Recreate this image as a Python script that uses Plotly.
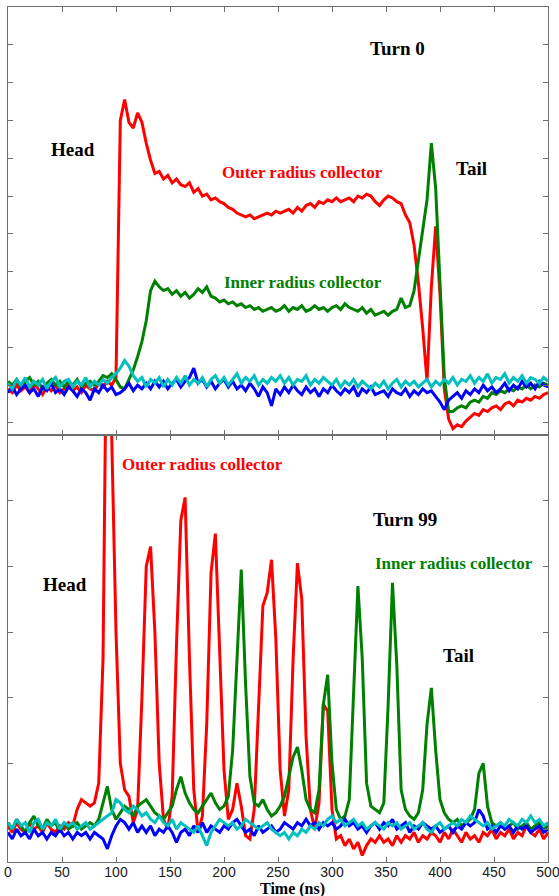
import plotly.graph_objects as go

# Sample times (ns), 4 ns spacing
TIME_NS = list(range(0, 501, 4))

# ---- Turn 0 (upper panel) -------------------------------------------------
turn0_outer = [
    -0.10, -0.20, 0.00, -0.15, -0.05, -0.20, 0.05, -0.10, -0.25, -0.05,
    -0.15, 0.00, -0.20, -0.10, 0.05, -0.15, -0.05, -0.20, 0.00, -0.10,
    -0.15, 0.05, -0.05, 0.10, 0.00, 0.20, 7.00, 7.55, 6.95, 6.80,
    7.20, 6.95, 6.40, 5.95, 5.60, 5.65, 5.45, 5.55, 5.35, 5.45,
    5.30, 5.25, 5.35, 5.10, 5.20, 5.00, 5.05, 4.90, 4.95, 4.85,
    4.80, 4.70, 4.65, 4.55, 4.50, 4.45, 4.50, 4.40, 4.45, 4.50,
    4.55, 4.50, 4.60, 4.55, 4.60, 4.65, 4.55, 4.70, 4.60, 4.75,
    4.80, 4.70, 4.85, 4.80, 4.90, 4.85, 4.95, 4.85, 4.90, 4.95,
    4.85, 5.00, 4.95, 5.05, 5.00, 4.85, 4.75, 4.90, 5.00, 4.95,
    4.85, 4.80, 4.50, 4.30, 3.70, 2.70, 1.50, 0.10, 2.60, 4.20,
    2.40, -0.10, -0.90, -1.15, -1.05, -1.10, -0.95, -0.85, -0.75, -0.80,
    -0.65, -0.70, -0.60, -0.55, -0.65, -0.50, -0.45, -0.55, -0.40, -0.45,
    -0.35, -0.40, -0.30, -0.35, -0.25, -0.20,
]
turn0_inner = [
    0.10, 0.00, 0.15, -0.05, 0.10, 0.20, 0.00, 0.10, -0.10, 0.05,
    0.15, 0.00, 0.10, -0.05, 0.10, 0.00, 0.15, -0.05, 0.05, 0.10,
    0.00, 0.10, 0.25, 0.20, 0.30, 0.15, -0.05, -0.10, 0.15, 0.40,
    0.75, 1.15, 1.70, 2.50, 2.75, 2.60, 2.50, 2.55, 2.40, 2.50,
    2.35, 2.45, 2.30, 2.40, 2.55, 2.45, 2.60, 2.35, 2.30, 2.20,
    2.25, 2.15, 2.20, 2.10, 2.15, 2.05, 2.10, 2.00, 2.05, 1.95,
    2.00, 2.05, 1.95, 2.00, 2.10, 1.95, 2.05, 2.00, 2.10, 1.95,
    2.00, 2.10, 2.00, 2.05, 1.95, 2.05, 2.10, 2.00, 2.15, 2.05,
    2.00, 1.95, 2.05, 1.90, 2.00, 1.85, 1.90, 1.95, 1.85, 1.95,
    2.00, 2.30, 2.05, 2.10, 2.50, 3.30, 4.10, 4.90, 6.40, 5.20,
    2.70, 0.20, -0.70, -0.70, -0.60, -0.55, -0.60, -0.45, -0.40, -0.45,
    -0.30, -0.35, -0.20, -0.25, -0.15, -0.20, -0.10, -0.15, -0.05, -0.10,
    0.00, -0.10, 0.00, -0.05, 0.05, 0.00,
]
turn0_blue = [
    -0.20, -0.05, -0.25, -0.10, 0.00, -0.20, -0.10, -0.30, -0.05, -0.15,
    0.05, -0.20, -0.10, -0.25, -0.05, -0.15, -0.30, -0.10, -0.20, -0.40,
    -0.10, -0.20, 0.00, -0.15, -0.05, -0.25, -0.20, -0.10, 0.05, -0.15,
    0.00, -0.10, 0.05, -0.10, 0.10, -0.05, 0.10, -0.10, 0.05, 0.15,
    -0.05, 0.10, 0.20, 0.45, 0.05, 0.15, -0.05, 0.10, -0.10, 0.05,
    0.15, -0.05, 0.10, -0.10, 0.00, -0.15, 0.05, -0.10, -0.30, -0.05,
    -0.20, -0.55, -0.10, -0.25, -0.05, -0.20, 0.00, -0.15, -0.25, -0.05,
    -0.20, -0.10, -0.30, -0.10, -0.20, 0.00, -0.15, -0.25, -0.10, -0.20,
    -0.05, -0.30, -0.10, -0.20, -0.05, -0.25, -0.20, -0.15, -0.30, -0.10,
    -0.20, -0.25, -0.10, -0.30, -0.15, -0.25, -0.10, -0.20, -0.15, -0.30,
    -0.45, -0.65, -0.40, -0.30, -0.20, -0.35, -0.15, -0.25, -0.10, -0.20,
    0.00, -0.15, -0.05, -0.20, -0.10, 0.05, -0.15, 0.00, -0.10, 0.10,
    -0.05, 0.05, -0.10, 0.10, 0.00, -0.05,
]
turn0_cyan = [
    0.05, -0.10, 0.15, 0.00, 0.20, -0.05, 0.10, 0.00, 0.15, -0.10,
    0.10, 0.20, -0.05, 0.10, 0.15, -0.05, 0.10, 0.00, 0.20, -0.05,
    0.10, 0.00, 0.15, 0.05, 0.20, 0.30, 0.45, 0.65, 0.50, 0.25,
    0.10, 0.20, -0.05, 0.15, 0.05, 0.20, -0.05, 0.15, 0.00, 0.20,
    0.05, 0.25, 0.00, 0.15, 0.05, 0.20, -0.05, 0.15, 0.25, 0.05,
    0.20, 0.00, 0.15, 0.30, 0.05, 0.20, 0.10, 0.25, 0.00, 0.15,
    0.05, 0.20, 0.10, 0.25, 0.05, 0.20, 0.00, 0.15, 0.10, 0.25,
    0.00, 0.15, 0.05, 0.20, 0.10, 0.00, 0.15, -0.05, 0.10, 0.00,
    0.15, -0.05, 0.10, 0.00, -0.10, 0.05, -0.05, 0.10, -0.10, 0.05,
    0.15, -0.05, 0.10, 0.00, 0.10, -0.05, 0.05, 0.15, -0.05, 0.10,
    0.00, 0.15, 0.05, 0.20, 0.00, 0.15, 0.10, 0.25, 0.05, 0.20,
    0.10, 0.30, 0.05, 0.20, 0.15, 0.30, 0.05, 0.20, 0.10, 0.25,
    0.05, 0.20, 0.15, 0.05, 0.20, 0.10,
]

# ---- Turn 99 (lower panel) ------------------------------------------------
turn99_outer = [
    0.05, -0.05, 0.10, 0.00, -0.05, 0.10, 0.00, 0.05, -0.05, 0.10,
    0.00, -0.05, 0.05, 0.00, 0.10, 0.05, 0.30, 0.45, 0.40, 0.35,
    0.40, 0.70, 2.60, 9.00, 6.00, 3.00, 1.00, 0.60, 0.50, 0.10,
    0.30, 2.00, 4.00, 4.30, 3.00, 1.00, 0.15, 0.00, 0.50, 2.80,
    4.70, 5.05, 2.60, 0.60, -0.05, 0.20, 1.60, 3.90, 4.50, 2.80,
    0.90, 0.15, 0.30, 0.70, 0.35, -0.10, -0.15, 0.30, 1.90, 3.40,
    3.60, 4.10, 2.90, 0.90, 0.20, 0.60, 2.60, 4.05, 3.50, 1.40,
    0.30, 0.00, 0.40, 1.90, 1.80, 0.30, -0.15, -0.10, -0.25, -0.15,
    -0.30, -0.20, -0.40, -0.25, -0.15, -0.20, -0.10, -0.20, -0.15, -0.25,
    -0.10, -0.20, -0.10, -0.15, -0.05, -0.20, -0.10, -0.15, -0.05, -0.10,
    -0.20, -0.05, -0.15, 0.00, -0.10, -0.20, -0.05, -0.15, -0.10, -0.20,
    -0.05, -0.10, 0.00, -0.15, -0.05, -0.10, 0.00, -0.15, -0.05, -0.10,
    0.05, -0.05, -0.10, 0.00, -0.15, -0.05,
]
turn99_inner = [
    0.10, 0.00, 0.15, 0.05, -0.05, 0.10, 0.20, 0.05, 0.00, 0.15,
    0.05, 0.10, -0.05, 0.10, 0.00, 0.05, 0.10, 0.00, 0.05, 0.10,
    0.05, 0.15, 0.40, 0.65, 0.30, 0.15, 0.25, 0.35, 0.30, 0.20,
    0.35, 0.40, 0.45, 0.35, 0.25, 0.20, 0.15, 0.25, 0.35, 0.60,
    0.80, 0.55, 0.40, 0.30, 0.25, 0.35, 0.45, 0.55, 0.40, 0.30,
    0.35, 0.50, 1.20, 2.60, 3.95, 2.20, 0.80, 0.40, 0.35, 0.45,
    0.30, 0.20, 0.25, 0.35, 0.50, 0.80, 1.10, 1.25, 0.90, 0.45,
    0.30, 0.25, 0.60, 1.90, 2.35, 1.00, 0.30, 0.15, 0.20, 0.45,
    2.00, 3.70, 2.60, 0.70, 0.35, 0.30, 0.25, 0.40, 1.90, 3.75,
    2.50, 0.60, 0.30, 0.20, 0.15, 0.25, 0.60, 1.60, 2.15, 1.20,
    0.45, 0.25, 0.15, 0.10, 0.15, 0.05, 0.10, 0.15, 0.30, 0.85,
    1.00, 0.35, 0.10, 0.05, 0.10, 0.00, 0.05, 0.10, 0.00, 0.05,
    0.10, 0.00, 0.05, 0.10, 0.00, 0.05,
]
turn99_blue = [
    -0.05, -0.15, 0.00, -0.10, -0.05, -0.15, 0.00, -0.10, -0.05, -0.15,
    -0.05, -0.10, 0.00, -0.10, -0.05, -0.15, -0.05, -0.10, -0.05, -0.15,
    -0.05, -0.10, -0.15, -0.30, -0.10, 0.05, 0.15, 0.10, 0.00, 0.10,
    -0.05, 0.05, -0.05, 0.05, -0.10, 0.00, -0.05, 0.05, -0.05, -0.20,
    -0.05, 0.00, -0.10, 0.05, -0.05, 0.10, -0.05, 0.05, 0.00, -0.05,
    0.05, 0.00, 0.10, 0.15, 0.05, -0.05, 0.00, -0.10, 0.05, -0.05,
    0.00, 0.05, -0.05, 0.00, 0.10, 0.05, 0.00, 0.10, 0.05, 0.15,
    0.05, 0.10, 0.00, 0.10, 0.05, 0.10, 0.00, 0.05, 0.15, 0.05,
    0.10, 0.00, 0.05, -0.05, 0.05, 0.10, 0.00, 0.10, 0.05, 0.15,
    0.00, 0.05, 0.10, -0.05, 0.05, 0.00, 0.10, 0.05, 0.00, 0.05,
    -0.05, 0.00, 0.05, -0.05, 0.05, 0.00, 0.10, 0.05, 0.10, 0.30,
    0.20, 0.00, 0.05, -0.05, 0.05, 0.00, 0.05, -0.05, 0.05, 0.00,
    0.05, -0.05, 0.00, 0.05, -0.05, 0.00,
]
turn99_cyan = [
    0.10, 0.00, 0.15, 0.05, 0.10, -0.05, 0.10, 0.15, 0.00, 0.10,
    0.05, 0.15, 0.00, 0.10, 0.05, 0.10, 0.00, 0.05, 0.10, 0.00,
    0.05, 0.10, 0.15, 0.20, 0.25, 0.45, 0.40, 0.30, 0.25, 0.35,
    0.30, 0.20, 0.25, 0.15, 0.10, 0.20, 0.10, 0.05, 0.15, 0.00,
    0.10, 0.05, 0.00, -0.05, 0.05, -0.10, -0.25, -0.05, 0.05, 0.15,
    0.10, 0.05, 0.10, 0.00, 0.05, 0.15, 0.10, 0.05, 0.00, 0.05,
    0.10, 0.00, -0.05, -0.10, -0.05, -0.15, -0.05, -0.10, 0.00, -0.05,
    0.05, 0.00, 0.10, 0.05, 0.15, 0.20, 0.10, 0.15, 0.05, 0.10,
    0.15, 0.05, 0.10, 0.00, 0.05, 0.10, 0.05, 0.00, 0.10, 0.05,
    0.10, 0.00, 0.05, 0.10, 0.00, 0.05, 0.10, 0.00, -0.05, 0.05,
    0.10, 0.00, 0.05, 0.10, 0.05, 0.15, 0.10, 0.20, 0.15, 0.10,
    0.05, 0.10, 0.00, 0.05, 0.10, 0.05, 0.15, 0.10, 0.05, 0.15,
    0.10, 0.20, 0.10, 0.15, 0.05, 0.10,
]

X_TICKS = [0, 50, 100, 150, 200, 250, 300, 350, 400, 450, 500]

RED = "#ff0000"
GREEN = "#008000"
BLUE = "#0000ff"
CYAN = "#00bfbf"
FRAME = "#6e6e6e"
SERIF = "Liberation Serif, Times New Roman, serif"
SANS = "Liberation Sans, Arial, sans-serif"

series = {
    "top": [(turn0_outer, RED), (turn0_inner, GREEN), (turn0_blue, BLUE), (turn0_cyan, CYAN)],
    "bottom": [(turn99_outer, RED), (turn99_inner, GREEN), (turn99_blue, BLUE), (turn99_cyan, CYAN)],
}
for name, lst in series.items():
    for vals, _ in lst:
        if len(vals) != len(TIME_NS):
            raise ValueError(f"{name}: {len(vals)} values for {len(TIME_NS)} samples")

fig = go.Figure()
for vals, col in series["top"]:
    fig.add_trace(go.Scatter(x=TIME_NS, y=vals, mode="lines", xaxis="x2", yaxis="y2",
                             line=dict(color=col, width=3), showlegend=False, hoverinfo="skip"))
for vals, col in series["bottom"]:
    fig.add_trace(go.Scatter(x=TIME_NS, y=vals, mode="lines", xaxis="x", yaxis="y",
                             line=dict(color=col, width=3), showlegend=False, hoverinfo="skip"))

W, H = 559, 896
x_dom = [8 / W, 548 / W]
bottom_dom = [(H - 862) / H, (H - 435) / H]
top_dom = [(H - 435) / H, (H - 7) / H]

axis_common = dict(showline=True, linecolor=FRAME, linewidth=1, mirror="ticks",
                   ticks="inside", ticklen=5, tickcolor=FRAME, tickwidth=1,
                   showgrid=False, zeroline=False, automargin=False)

fig.update_layout(
    width=W, height=H, autosize=False,
    margin=dict(l=0, r=0, t=0, b=0, autoexpand=False),
    paper_bgcolor="white", plot_bgcolor="white",
    xaxis=dict(domain=x_dom, anchor="y", range=[0, 500], tickvals=X_TICKS,
               ticktext=[str(v) for v in X_TICKS], ticklabeloverflow="allow",
               ticklabelstandoff=-3,
               tickfont=dict(family=SANS, size=14, color="#1a1a1a"), **axis_common),
    yaxis=dict(domain=bottom_dom, anchor="x", range=[-0.5, 6.0], tick0=0, dtick=1,
               showticklabels=False, **axis_common),
    xaxis2=dict(domain=x_dom, anchor="y2", range=[0, 500], tickvals=X_TICKS,
                showticklabels=False, **axis_common),
    yaxis2=dict(domain=top_dom, anchor="x2", range=[-1.32, 10.0], tick0=0, dtick=1,
                showticklabels=False, **axis_common),
)

def label(text, x, y, axes, color="black", size=19):
    xr, yr = axes
    fig.add_annotation(text=f"<b>{text}</b>", x=x, y=y, xref=xr, yref=yr,
                       showarrow=False, xanchor="center", yanchor="middle",
                       font=dict(family=SERIF, size=size, color=color))

top = ("x2", "y2")
bot = ("x", "y")
label("Turn 0", 361, 8.89, top)
label("Head", 60, 6.24, top)
label("Outer radius collector", 273, 5.63, top, RED, 17)
label("Tail", 429, 5.74, top)
label("Inner radius collector", 273, 2.72, top, GREEN, 17)

label("Outer radius collector", 180, 5.55, bot, RED, 17)
label("Turn 99", 368, 4.71, bot)
label("Inner radius collector", 413, 4.05, bot, GREEN, 17)
label("Head", 53, 3.73, bot)
label("Tail", 417, 2.65, bot)

fig.add_annotation(text="<b>Time (ns)</b>", x=292 / W, y=(H - 889) / H,
                   xref="paper", yref="paper", showarrow=False,
                   xanchor="center", yanchor="middle", borderpad=0,
                   font=dict(family=SERIF, size=16, color="black"))

fig.write_html("out.html")
